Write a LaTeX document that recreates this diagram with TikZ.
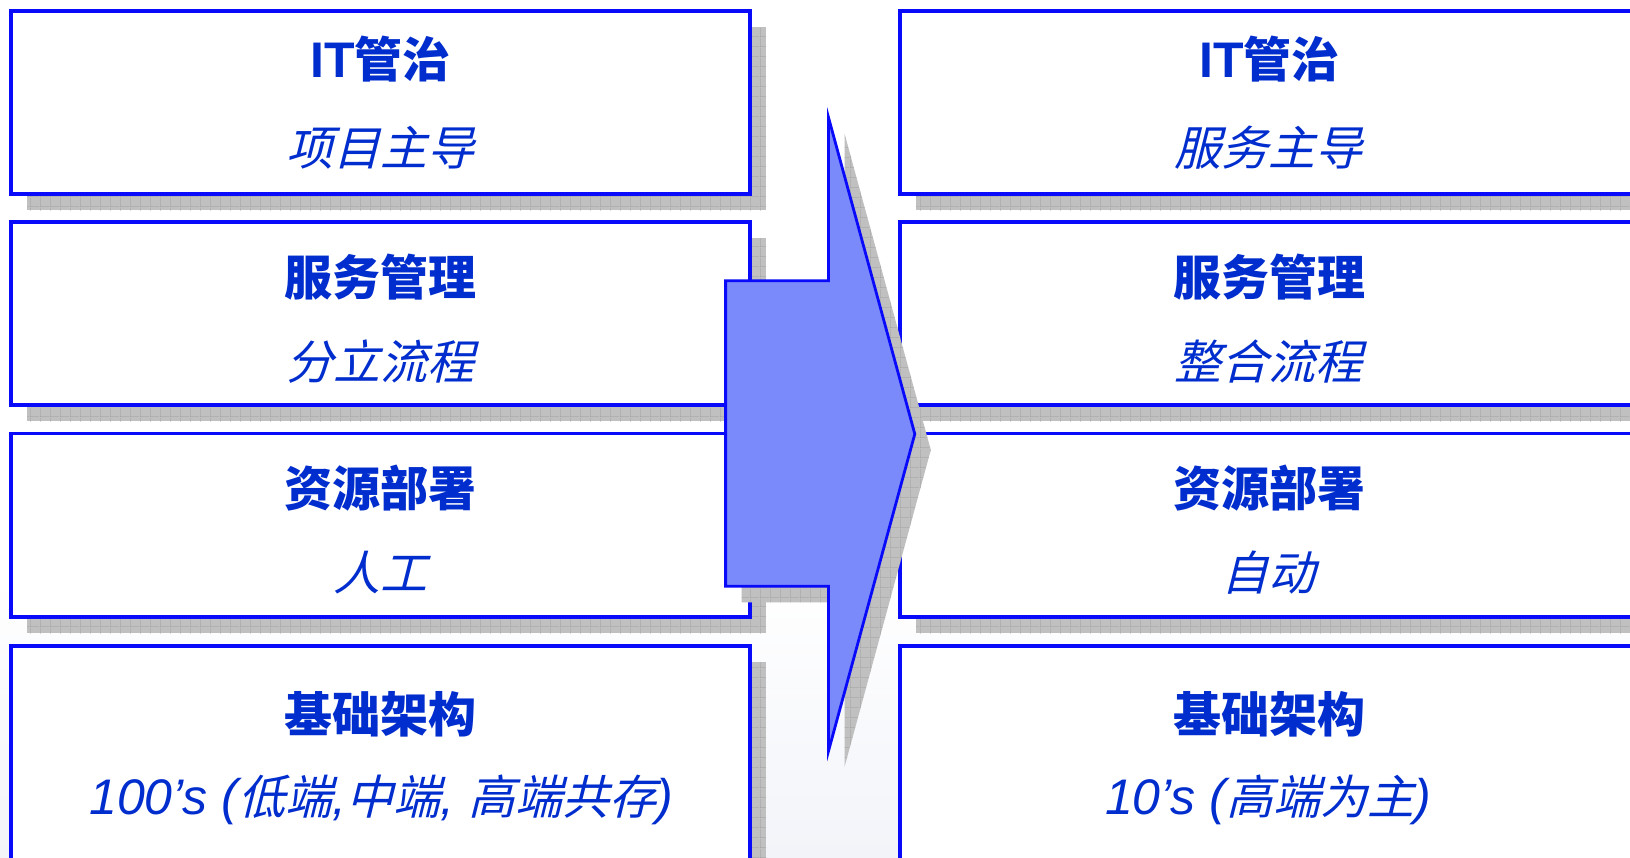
\documentclass[tikz,border=0pt]{standalone}
\usepackage{fontspec}
\setmainfont{Liberation Sans}
\newfontfamily\cjk{Noto Sans CJK SC}
\newfontfamily\cjksl{Noto Sans CJK SC}[FakeSlant=0.25]
\newfontfamily\lat{Liberation Sans}
\usetikzlibrary{patterns.meta,shadows}
\definecolor{boxblue}{RGB}{10,10,250}
\definecolor{txtblue}{RGB}{0,45,205}
\definecolor{arrowfill}{RGB}{122,138,250}
\definecolor{shadowfill}{RGB}{192,192,192}
\definecolor{gridgray}{RGB}{150,150,150}
\definecolor{bgbottom}{RGB}{242,244,249}
\tikzdeclarepattern{name=shadowgrid, type=uncolored,
  bounding box={(0pt,0pt) and (10pt,10pt)}, tile size={(10pt,10pt)},
  code={\draw[line width=0.8pt] (0pt,0pt) -- (10pt,0pt) (0pt,0pt) -- (0pt,10pt);}}
\newcommand\LB[1]{{\lat\bfseries\fontsize{50}{52}\selectfont #1}}
\newcommand\LI[1]{{\lat\itshape\fontsize{50}{52}\selectfont #1}}
\tikzset{
  shadowed/.style={
    general shadow={shadow xshift=16pt, shadow yshift=-16pt, fill=shadowfill},
    general shadow={shadow xshift=16pt, shadow yshift=-16pt, pattern=shadowgrid, pattern color=gridgray}},
  box/.style={shadowed, draw=boxblue, line width=3.4pt, fill=white,
    minimum width=739pt, inner sep=0pt, outer sep=0pt},
  ttl/.style={anchor=base, text=txtblue, inner sep=0pt,
    font=\cjk\bfseries\fontsize{48}{50}\selectfont},
  sub/.style={anchor=base, text=txtblue, inner sep=0pt,
    font=\cjksl\fontsize{47}{50}\selectfont},
  bigarrow/.style={shadowed, draw=boxblue, line width=2.8pt, fill=arrowfill}
}
\begin{document}
\begin{tikzpicture}[x=1pt,y=-1pt]
\useasboundingbox (0,0) rectangle (1630,857);
\clip (0,0) rectangle (1630,857);
\fill[white] (0,0) rectangle (1630,857);
\shade[top color=white, bottom color=bgbottom] (0,580) rectangle (1630,857);
% left column
\node[box, minimum height=183pt] (L1) at (380.5,102.5) {};
\node[box, minimum height=183pt] (L2) at (380.5,313.5) {};
\node[box, minimum height=183.5pt] (L3) at (380.5,525.25) {};
\node[box, minimum height=234pt] (L4) at (380.5,763) {};
% right column
\node[box, minimum height=183pt] (R1) at (1269.5,102.5) {};
\node[box, minimum height=183pt] (R2) at (1269.5,313.5) {};
\node[box, minimum height=183.5pt] (R3) at (1269.5,525.25) {};
\node[box, minimum height=234pt] (R4) at (1269.5,763) {};
% arrow
\path[bigarrow] (725.6,280.7) -- (828.5,280.7) -- (828.5,117.5) -- (914.8,434)
  -- (828.5,751) -- (828.5,586.3) -- (725.6,586.3) -- cycle;
% texts left
\node[ttl] (L1t) at (380.5,77.5) {\LB{IT}管治};
\node[sub] (L1s) at (380,165.5) {项目主导};
\node[ttl] (L2t) at (380.5,295) {服务管理};
\node[sub] (L2s) at (380,379.5) {分立流程};
\node[ttl] (L3t) at (380.5,506) {资源部署};
\node[sub] (L3s) at (380,590) {人工};
\node[ttl] (L4t) at (380.5,732) {基础架构};
\node[sub] (L4s) at (381,814) {\LI{100’s (}低端\LI{,}中端\LI{, }高端共存\LI{)}};
% texts right
\node[ttl] (R1t) at (1269.5,77.5) {\LB{IT}管治};
\node[sub] (R1s) at (1268,165.5) {服务主导};
\node[ttl] (R2t) at (1269.5,295) {服务管理};
\node[sub] (R2s) at (1268,379.5) {整合流程};
\node[ttl] (R3t) at (1269.5,506) {资源部署};
\node[sub] (R3s) at (1268,590) {自动};
\node[ttl] (R4t) at (1269.5,732) {基础架构};
\node[sub] (R4s) at (1268,814) {\LI{10’s (}高端为主\LI{)}};
\end{tikzpicture}
\end{document}
